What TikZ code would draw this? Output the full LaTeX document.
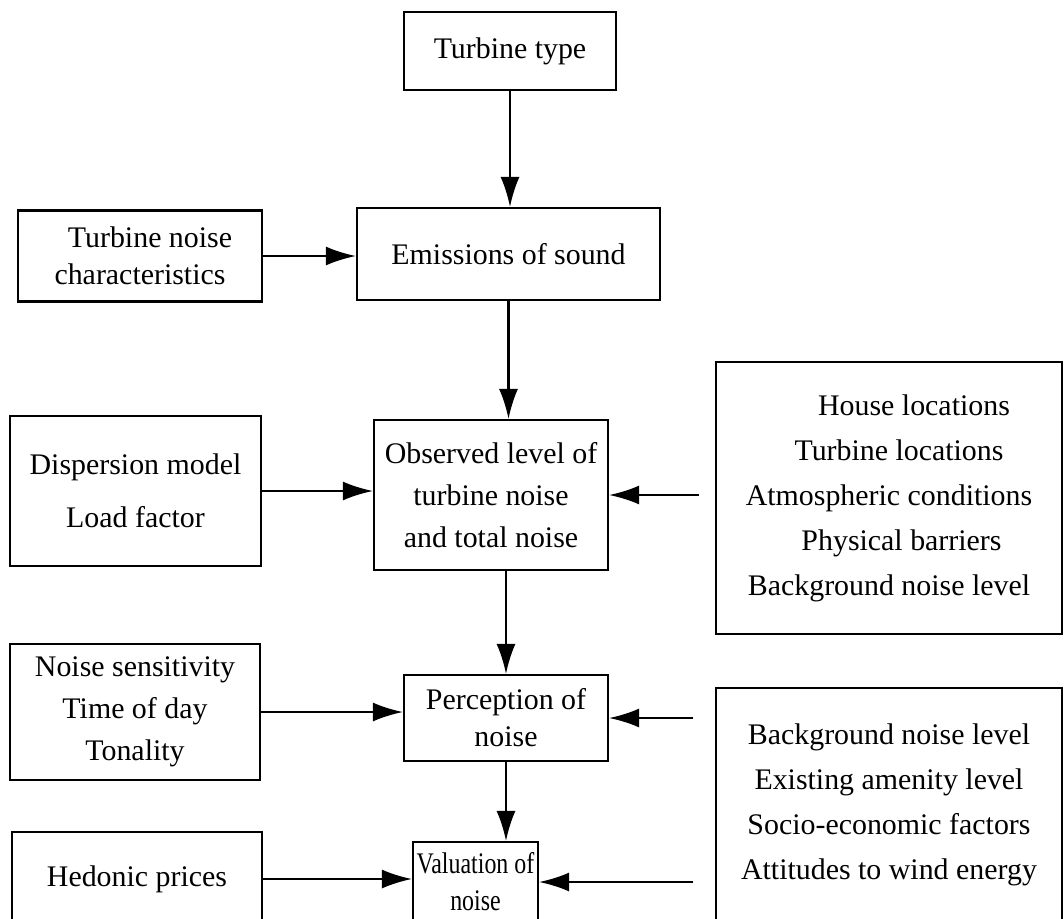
\documentclass[tikz,border=0pt]{standalone}
\usepackage{fontspec}
\setmainfont{Liberation Serif}
\usetikzlibrary{arrows.meta}
\tikzstyle{bx}=[draw=black,line width=.6pt,align=center,inner sep=0pt,font=\fontsize{8.5}{10.5}\selectfont]
\tikzstyle{arr}=[line width=.6pt,-{Latex[length=.3cm,width=.19cm]}]

\begin{document}
\begin{tikzpicture}[x=.01cm,y=-.01cm]
		\useasboundingbox (0,0) rectangle (1064,918);
		\clip (0,0) rectangle (1064,918);
		% middle column
		\node[bx,minimum width=2.12cm,minimum height=.78cm] (type) at (510,51) {Turbine type};
		\node[bx,minimum width=3.03cm,minimum height=.92cm] (emis) at (508.5,254) {Emissions of sound};
		\node[bx,minimum width=2.34cm,minimum height=1.5cm] (obs) at (491,495) {Observed level of\\[1.5pt]turbine noise\\[1.5pt]and total noise};
		\node[bx,minimum width=2.04cm,minimum height=.86cm] (per) at (506,718) {Perception of\\noise};
		\node[bx,minimum width=1.25cm,minimum height=.8cm] (val) at (475.5,882) {\scalebox{.8}[1]{Valuation of}\\\scalebox{.8}[1]{noise}};
		% left column
		\node[bx,minimum width=2.44cm,minimum height=.91cm] (char) at (140,256) {\hspace{.2cm}Turbine noise\\characteristics};
		\node[bx,minimum width=2.51cm,minimum height=1.5cm] (disp) at (135.5,491) {Dispersion model\\[4.5pt]Load factor};
		\node[bx,minimum width=2.5cm,minimum height=1.36cm] (sens) at (135,712) {Noise sensitivity\\[1.5pt]Time of day\\[1.5pt]Tonality};
		\node[bx,minimum width=2.5cm,minimum height=.94cm] (hed) at (137,879) {Hedonic prices};
		% right column
		\node[bx,minimum width=3.46cm,minimum height=2.72cm] (loc) at (889,498) {\hspace{.5cm}House locations\\[2.3pt]\hspace{.2cm}Turbine locations\\[2.3pt]Atmospheric conditions\\[2.3pt]\hspace{.25cm}Physical barriers\\[2.3pt]Background noise level};
		\node[bx,minimum width=3.46cm,minimum height=2.34cm] (ctx) at (889,805) {Background noise level\\[2.3pt]Existing amenity level\\[2.3pt]Socio-economic factors\\[2.3pt]Attitudes to wind energy};
		% connectors
		\draw[arr] (type.south) -- (type.south |- emis.north);
		\draw[arr] (char.east) -- (char.east -| emis.west);
		\draw[arr] (emis.south) -- (emis.south |- obs.north);
		\draw[arr] (disp.east) -- (disp.east -| obs.west);
		\draw[arr,shorten <=.16cm] (obs.east -| loc.west) -- (obs.east);
		\draw[arr] (per.north |- obs.south) -- (per.north);
		\draw[arr] (sens.east) -- (sens.east -| per.west);
		\draw[arr,shorten <=.22cm] (per.east -| ctx.west) -- (per.east);
		\draw[arr] (per.south) -- (per.south |- val.north);
		\draw[arr] (hed.east) -- (hed.east -| val.west);
		\draw[arr,shorten <=.22cm] (val.east -| ctx.west) -- (val.east);
	\end{tikzpicture}
\end{document}
